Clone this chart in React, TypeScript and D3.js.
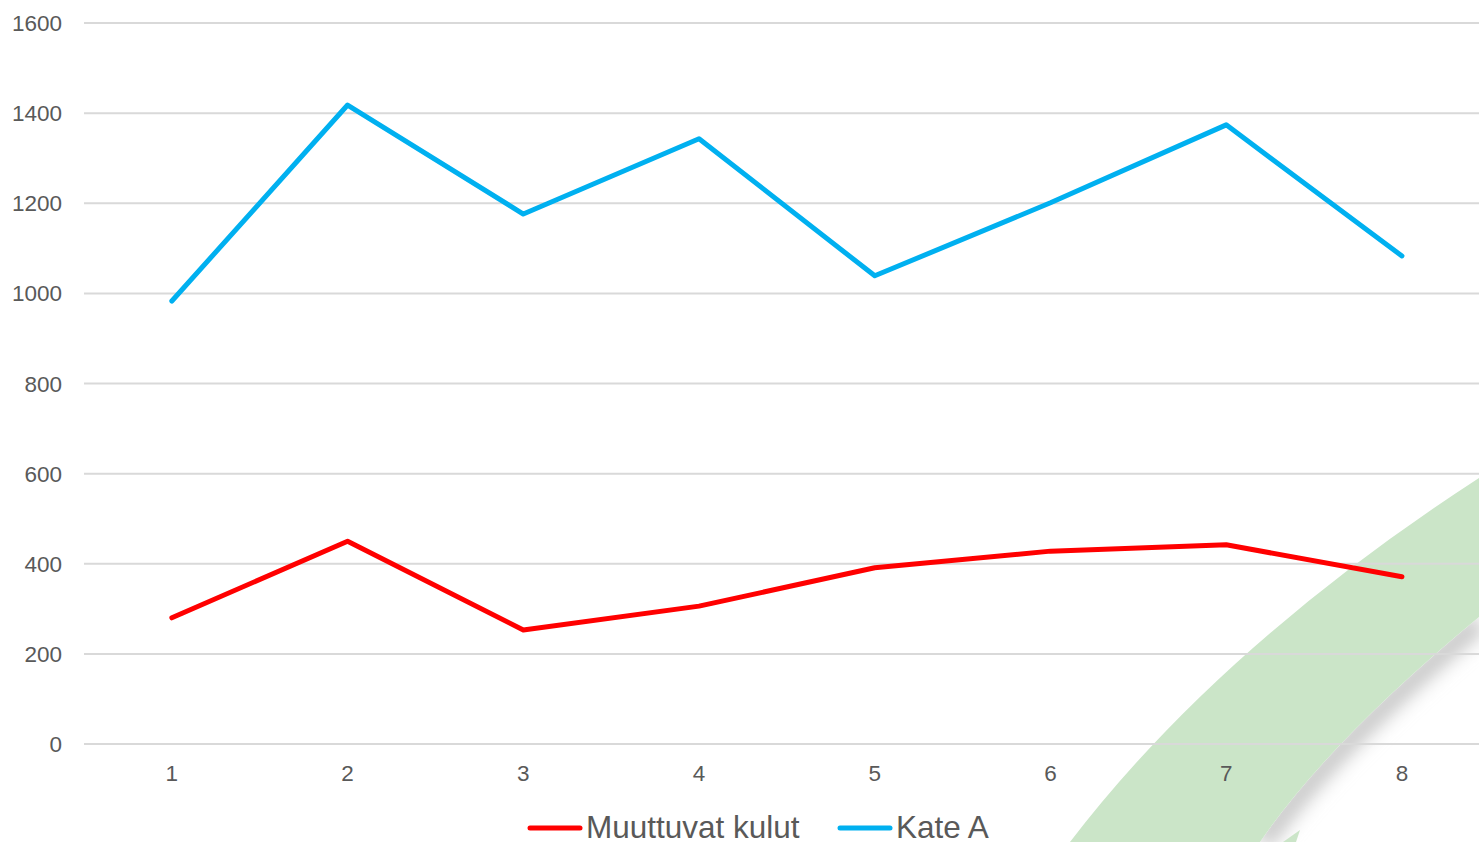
import React from 'react'
import * as d3 from 'd3'

const categories = ['1', '2', '3', '4', '5', '6', '7', '8']
const muuttuvatKulut = [280, 450, 253, 306, 391, 428, 442, 371]
const kateA = [983, 1418, 1176, 1343, 1039, 1201, 1374, 1083]
const yTicks = [0, 200, 400, 600, 800, 1000, 1200, 1400, 1600]

const series = [
  { name: 'Muuttuvat kulut', values: muuttuvatKulut, colour: '#ff0000' },
  { name: 'Kate A', values: kateA, colour: '#00b0f0' }
]

const width = 1479
const height = 842
const font = '"Liberation Sans", Arial, sans-serif'
const textColour = '#595959'

export default function App() {
  const xScale = d3.scaleBand().domain(categories).range([84, 1489.8])
  const yScale = d3.scaleLinear().domain([0, 1600]).range([744, 23])
  const cx = (c: string) => (xScale(c) as number) + xScale.bandwidth() / 2

  const line = d3.line<number>()
    .x((d, i) => cx(categories[i]))
    .y(d => yScale(d))

  // decorative green swoosh in the lower right corner
  const swoosh = 'M1070,842 Q1220,646 1479,478 L1479,617 Q1330,740 1260,842 Z'
  const shadow = 'M1479,622 Q1332,745 1262,842'

  const legendX = [527, 837]

  return (
    <div style={{ position: 'absolute', left: 0, top: 0 }}>
      <svg width={width} height={height} style={{ display: 'block' }}>
        <defs>
          <filter id="blur" x="-20%" y="-20%" width="140%" height="140%">
            <feGaussianBlur stdDeviation="9" />
          </filter>
          <clipPath id="below">
            <path d="M1479,617 Q1330,740 1260,842 L1479,842 Z" />
          </clipPath>
        </defs>
        <rect width={width} height={height} fill="#ffffff" />
        <g clipPath="url(#below)">
          <path d={shadow} stroke="#c8c8c8" strokeWidth={22} fill="none" filter="url(#blur)" />
        </g>
        <path d={swoosh} fill="#cbe5c8" />
        <path d="M1283,842 L1300,830 L1296,842 Z" fill="#cbe5c8" />
        {yTicks.map(t => (
          <g key={`y_${t}`}>
            <line x1={84} x2={width} y1={yScale(t)} y2={yScale(t)} stroke="#d9d9d9" strokeWidth={2} />
            <text x={62} y={yScale(t)} dy="0.36em" textAnchor="end" fontFamily={font} fontSize={22.5} fill={textColour}>{t}</text>
          </g>
        ))}
        {categories.map(c => (
          <text key={`x_${c}`} x={cx(c)} y={781} textAnchor="middle" fontFamily={font} fontSize={22.5} fill={textColour}>{c}</text>
        ))}
        {series.map(s => (
          <path key={s.name} d={line(s.values) as string} fill="none" stroke={s.colour} strokeWidth={5} strokeLinejoin="round" strokeLinecap="round" />
        ))}
        {series.map((s, i) => (
          <g key={`legend_${s.name}`}>
            <line x1={legendX[i] + 3} x2={legendX[i] + 53} y1={828} y2={828} stroke={s.colour} strokeWidth={5} strokeLinecap="round" />
            <text x={legendX[i] + 59} y={838} fontFamily={font} fontSize={31.5} fill={textColour}>{s.name}</text>
          </g>
        ))}
      </svg>
    </div>
  )
}
